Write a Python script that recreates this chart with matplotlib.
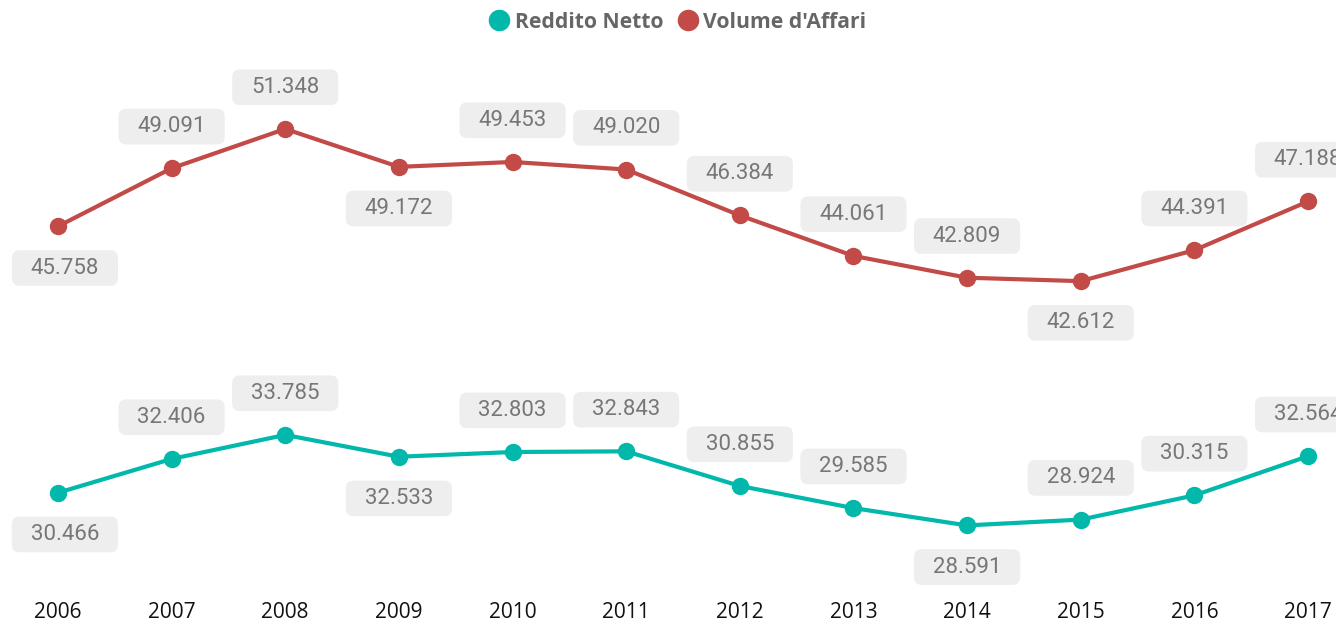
import numpy as np
import matplotlib.pyplot as plt
from matplotlib.patches import BoxStyle

years = [2006, 2007, 2008, 2009, 2010, 2011, 2012, 2013, 2014, 2015, 2016, 2017]
reddito_netto = [30.466, 32.406, 33.785, 32.533, 32.803, 32.843,
                 30.855, 29.585, 28.591, 28.924, 30.315, 32.564]
volume_affari = [45.758, 49.091, 51.348, 49.172, 49.453, 49.020,
                 46.384, 44.061, 42.809, 42.612, 44.391, 47.188]

# label placement: +1 above the point, -1 below
side_reddito = [-1, 1, 1, -1, 1, 1, 1, 1, -1, 1, 1, 1]
side_volume = [-1, 1, 1, -1, 1, 1, 1, 1, 1, -1, 1, 1]

TEAL = "#01B8AA"
RED = "#C24B48"
LABEL_BG = "#EEEEEE"
LABEL_FG = "#777777"


def wide_round(x0, y0, width, height, mutation_size):
    padx = 0.85 * mutation_size
    pady = 0.33 * mutation_size
    return BoxStyle.Round(pad=0, rounding_size=0.35)(
        x0 - padx, y0 - pady, width + 2 * padx, height + 2 * pady, mutation_size)


def fmt(v):
    return f"{v:.3f}"


fig = plt.figure(figsize=(13.36, 6.25), dpi=100)
ax = fig.add_axes([0, 0.064, 1, 0.936])

for vals, sides, col, name in [(reddito_netto, side_reddito, TEAL, "Reddito Netto"),
                               (volume_affari, side_volume, RED, "Volume d'Affari")]:
    ax.plot(years, vals, color=col, linewidth=3, marker="o", markersize=11.5,
            label=name, solid_capstyle="round", zorder=3)
    for i, (x, v, s) in enumerate(zip(years, vals, sides)):
        dx = 5 if i == 0 else 0
        ax.annotate(fmt(v), (x, v), xytext=(dx, 30 * s), textcoords="offset points",
                    ha="center", va="center", fontsize=16, family="Roboto",
                    color=LABEL_FG, zorder=4, annotation_clip=False,
                    bbox=dict(boxstyle=wide_round, fc=LABEL_BG, ec="none"))

ax.set_xlim(2005.49, 2017.246)
ax.set_ylim(25.17, 58.75)
ax.set_xticks(years)
ax.set_xticklabels([str(y) for y in years], fontsize=15, family="Open Sans", color="#111111")
ax.tick_params(axis="x", length=0, pad=12)
ax.set_yticks([])
for sp in ax.spines.values():
    sp.set_visible(False)

leg = fig.legend(loc="upper center", bbox_to_anchor=(0.5075, 1.012), ncol=2, frameon=False,
                 handlelength=0.9, handletextpad=0.3, columnspacing=0.7,
                 prop={"family": "Open Sans", "weight": "bold", "size": 15.2})
for h in leg.legend_handles:
    h.set_linestyle("none")
    h.set_markersize(14.5)
for t in leg.get_texts():
    t.set_color("#666666")

fig.savefig("out.png", dpi=100)
